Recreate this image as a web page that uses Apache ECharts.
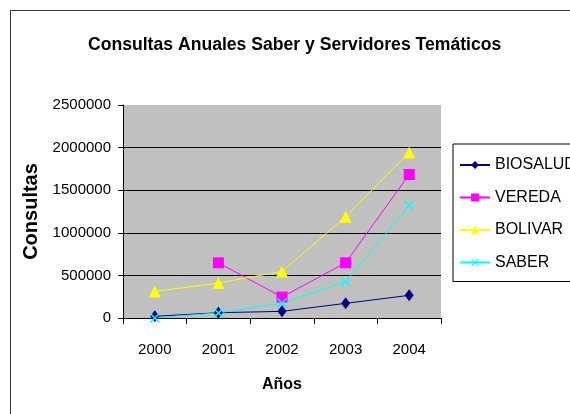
<!DOCTYPE html>
<html>
<head>
<meta charset="utf-8">
<script src="https://cdn.jsdelivr.net/npm/echarts@6/dist/echarts.min.js"></script>
<style>html,body{margin:0;padding:0;background:#fff;}#c{width:570px;height:414px;}</style>
</head>
<body>
<div id="c"></div>
<script>
var years = ['2000', '2001', '2002', '2003', '2004'];
var biosalud = [20000, 62000, 78000, 172000, 266000];
var vereda = [null, 648000, 246000, 648000, 1684000];
var bolivar = [312000, 410000, 547000, 1188000, 1942000];
var saber = [0, 60000, 176000, 426000, 1320000];
var seriesNames = ['BIOSALUD', 'VEREDA', 'BOLIVAR', 'SABER'];

var FONT = '"Liberation Sans", Arial, sans-serif';
var xMark = 'path://M0,1L1,0L5,4L9,0L10,1L6,5L10,9L9,10L5,6L1,10L0,9L4,5Z';

var chart = echarts.init(document.getElementById('c'), null, {renderer: 'canvas'});
function mk(name, data, color, symbol, size) {
  return {
    name: name, type: 'line', data: data, symbol: symbol, symbolSize: size,
    showSymbol: true, connectNulls: false,
    lineStyle: {color: color, width: 1},
    itemStyle: {color: color, borderWidth: 0},
    emphasis: {disabled: true}, animation: false
  };
}
chart.setOption({
  animation: false,
  backgroundColor: '#fff',
  graphic: [{
    type: 'rect', shape: {x: 10.5, y: 10.5, width: 600, height: 450},
    style: {fill: 'none', stroke: '#333', lineWidth: 1}, z: -10
  }],
  title: {
    text: 'Consultas Anuales Saber y Servidores Temáticos',
    left: 83, top: 31,
    textStyle: {fontFamily: FONT, fontWeight: 'bold', fontSize: 17.6, color: '#000'}
  },
  legend: {
    data: seriesNames, orient: 'vertical', left: 453, top: 144,
    padding: [13, 20, 11, 6], itemGap: 16.5, itemWidth: 30, itemHeight: 10,
    borderColor: '#000', borderWidth: 1, backgroundColor: '#fff',
    textStyle: {fontFamily: FONT, fontSize: 16, color: '#000', padding: [0, 0, 0, 0]}
  },
  grid: {left: 123, top: 105, width: 318, height: 213, show: true, backgroundColor: '#c0c0c0', borderWidth: 0},
  xAxis: {
    type: 'category', data: years, boundaryGap: true,
    name: 'Años', nameLocation: 'middle', nameGap: 59,
    nameTextStyle: {fontFamily: FONT, fontWeight: 'bold', fontSize: 16, color: '#000'},
    axisLine: {lineStyle: {color: '#000', width: 1}},
    axisTick: {show: true, length: 6, lineStyle: {color: '#000'}},
    axisLabel: {fontFamily: FONT, fontSize: 15, color: '#000', margin: 24}
  },
  yAxis: {
    type: 'value', min: 0, max: 2500000, interval: 500000,
    name: 'Consultas', nameLocation: 'middle', nameGap: 54,
    nameTextStyle: {fontFamily: FONT, fontWeight: 'bold', fontSize: 20, color: '#000'},
    axisLine: {show: true, lineStyle: {color: '#000', width: 1}},
    axisTick: {show: true, length: 5, lineStyle: {color: '#000'}},
    axisLabel: {fontFamily: FONT, fontSize: 15, color: '#000', margin: 12,
      formatter: function (v) { return String(v); }},
    splitLine: {showMaxLine: false, lineStyle: {color: '#000', width: 1}}
  },
  series: [
    mk('BIOSALUD', biosalud, '#000080', 'diamond', [9, 12]),
    mk('VEREDA', vereda, '#ff00ff', 'rect', 11),
    mk('BOLIVAR', bolivar, '#ffff00', 'triangle', 12),
    mk('SABER', saber, '#00ffff', xMark, 10)
  ]
});
</script>
</body>
</html>
